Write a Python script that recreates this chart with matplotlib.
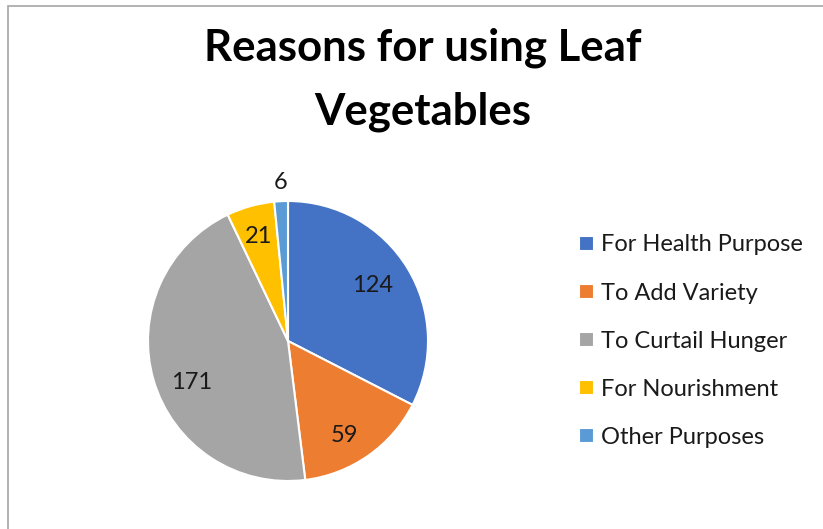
import matplotlib

matplotlib.use("Agg")
import matplotlib.pyplot as plt
import numpy as np
from matplotlib.patches import Rectangle

plt.rcParams["font.family"] = ["Lato", "DejaVu Sans"]

# reasons and counts
reasons = ["For Health Purpose", "To Add Variety", "To Curtail Hunger",
           "For Nourishment", "Other Purposes"]
counts = [124, 59, 171, 21, 6]
colors = ["#4472C4", "#ED7D31", "#A5A5A5", "#FFC000", "#5B9BD5"]
# value label placement: distance from centre (radii) and angle nudge (deg)
label_dist = [0.725, 0.785, 0.752, 0.776, 1.13]
label_nudge = [2.0, -3.8, 6.7, 0.0, 0.0]

W, H = 823, 529
fig = plt.figure(figsize=(W / 100, H / 100), dpi=100)
fig.patch.set_facecolor("white")

# chart area frame
fig.add_artist(Rectangle((8 / W, -0.1), 1.2, 1 - 6 / H + 0.1,
                         transform=fig.transFigure, fill=False,
                         edgecolor="#A6A6A6", lw=1.2))

for line, base in [("Reasons for using Leaf", 60), ("Vegetables", 124)]:
    fig.text(423 / W, 1 - base / H, line, ha="center", va="baseline",
             fontsize=31.5, fontweight="bold", color="black")

cx, cy, r = 288, 341, 140
ax = fig.add_axes([(cx - r) / W, (H - cy - r) / H, 2 * r / W, 2 * r / H])
wedges, _ = ax.pie(counts, colors=colors, startangle=90, counterclock=False,
                   radius=1, wedgeprops=dict(edgecolor="white", linewidth=1.5))
ax.set_xlim(-1, 1)
ax.set_ylim(-1, 1)
ax.set_aspect("equal")
ax.axis("off")

for w, n, d, nudge in zip(wedges, counts, label_dist, label_nudge):
    mid = np.deg2rad((w.theta1 + w.theta2) / 2 + nudge)
    ax.text(d * np.cos(mid), d * np.sin(mid), str(n), ha="center",
            va="center", fontsize=17, color="#1a1a1a", clip_on=False)

leg = fig.legend(wedges, reasons, loc="upper left",
                 bbox_to_anchor=(570 / W, 1 - 225 / H), frameon=False,
                 fontsize=17, labelspacing=1.15, handlelength=0.6,
                 handleheight=0.6, handletextpad=0.3, borderaxespad=0)
for t in leg.get_texts():
    t.set_color("#1a1a1a")

fig.savefig("out.png", dpi=100)
